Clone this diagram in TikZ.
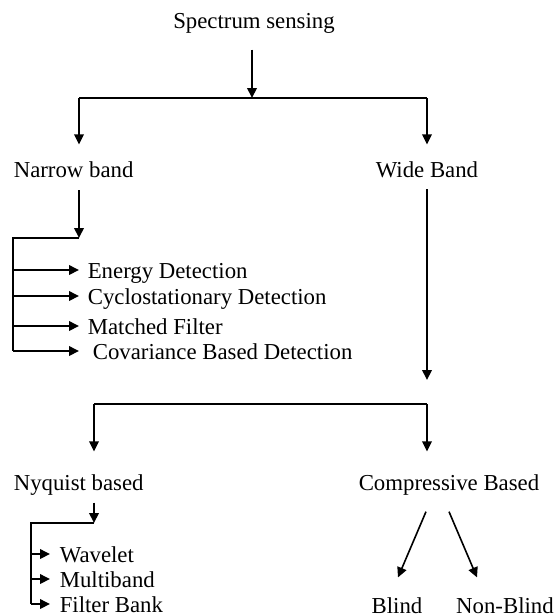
\documentclass[tikz,border=0pt]{standalone}
\usepackage{fontspec}
\setmainfont{Liberation Serif}
\usetikzlibrary{arrows.meta}

\begin{document}
\begin{tikzpicture}[x=0.5pt,y=-0.5pt,line width=0.8pt,
  lbl/.style={inner sep=0,font=\fontsize{11.4}{13}\selectfont},
  itemlbl/.style={lbl,anchor=west,text height=0.8em,text depth=0pt},
  arr/.style={-{Triangle[length=5pt,width=4.8pt]}}]

\useasboundingbox (0,0) rectangle (557,616);

% first split

\node (spec) [lbl,anchor=base] at (254,28) {Spectrum sensing};
\node (narrow) [lbl,anchor=base west] at (13,177) {Narrow band};
\node (wide) [lbl,anchor=base] at (427,177) {Wide Band};

\coordinate (topC) at (252,98);
\coordinate (narrowC) at (79,98);
\coordinate (wideC) at (427,98);

\draw [arr] (spec.south -| topC) ++(0,16) -- (topC);
\draw (narrowC) -- (wideC);
\draw [arr,shorten >=8pt] (narrowC) -- (narrowC |- narrow.north);
\draw [arr,shorten >=8pt] (wideC) -- (wide.north);

% narrow band methods

\coordinate (narrowJ) at (79,238);
\coordinate (narrowBus) at (13,238);

\draw [arr] (narrow.south -| narrowJ) ++(0,12) -- (narrowJ);

\foreach \name/\y/\xt/\txt in {
  energy/270/87/Energy Detection,
  cyclo/296/87/Cyclostationary Detection,
  matched/326/87/Matched Filter,
  covar/351/92/Covariance Based Detection}
{
    \node (\name) [itemlbl] at (\xt,\y) {\txt};
    \draw [arr] (narrowBus |- \name.west) -- ([xshift=-4pt-(\xt-87)*0.5pt]\name.west);
}

\draw (narrowJ) -- (narrowBus) -- (narrowBus |- covar.west);

% wide band split

\node (nyq) [lbl,anchor=base west] at (13,490) {Nyquist based};
\node (comp) [lbl,anchor=base] at (449,490) {Compressive Based};

\coordinate (wideJ) at (427,380);
\coordinate (nyqC) at (94,404);
\coordinate (compC) at (427,404);

\draw [arr] (wide.south) ++(0,11) -- (wideJ);
\draw (nyqC) -- (compC);
\draw [arr,shorten >=11pt] (nyqC) -- (nyqC |- nyq.north);
\draw [arr,shorten >=11pt] (compC) -- (compC |- comp.north);

% nyquist methods

\coordinate (nyqJ) at (94,523);
\coordinate (nyqBus) at (31,523);

\draw [arr] (nyq.south -| nyqJ) ++(0,7) -- (nyqJ);

\foreach \name/\y/\txt in {
  wavelet/554/Wavelet,
  multi/579/Multiband,
  fbank/604/Filter Bank}
{
    \node (\name) [itemlbl] at (59,\y) {\txt};
    \draw [arr] (nyqBus |- \name.west) -- ([xshift=-4.5pt]\name.west);
}

\draw (nyqJ) -- (nyqBus) -- (nyqBus |- fbank.west);

% compressive methods

\node (blind) [lbl,anchor=base] at (397,613) {Blind};
\node (nonblind) [lbl,anchor=base] at (505,613) {Non-Blind};

\draw [arr] ([xshift=-11.5pt,yshift=-8pt]comp.south) -- ([xshift=0.5pt,yshift=9.5pt]blind.north);
\draw [arr] ([yshift=-8pt]comp.south) -- ([xshift=-14pt,yshift=9.5pt]nonblind.north);

\end{tikzpicture}
\end{document}
